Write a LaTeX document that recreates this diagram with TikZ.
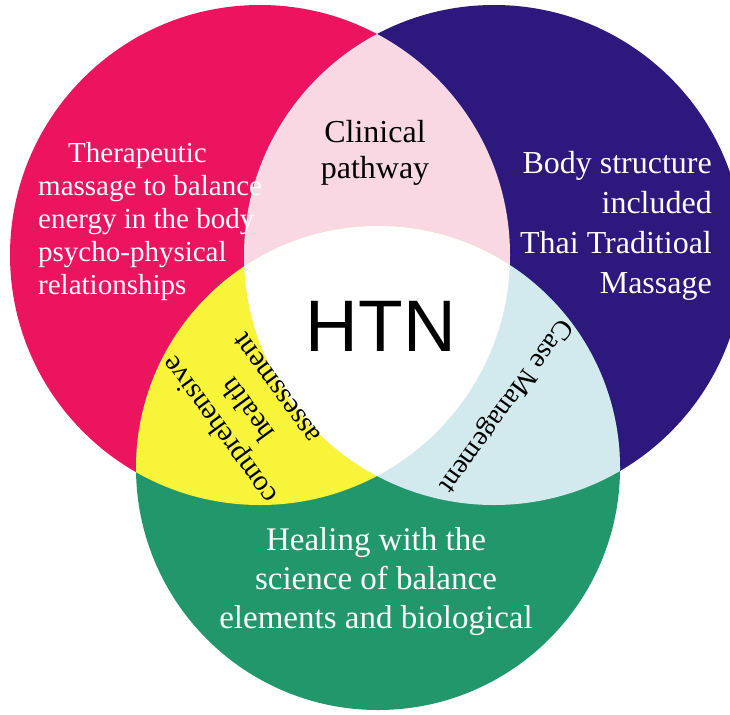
\documentclass[tikz,border=0pt]{standalone}
\usepackage{fontspec}
\setmainfont{Liberation Serif}
\newfontfamily\htnfont{Liberation Sans}
\usepackage{tikz}
\definecolor{petalpink}{HTML}{EC145F}
\definecolor{petalpurple}{HTML}{2D187E}
\definecolor{petalgreen}{HTML}{23976C}
\definecolor{petalyellow}{HTML}{F8F43A}
\definecolor{softpink}{HTML}{F9D8E3}
\definecolor{softblue}{HTML}{D2E9EE}
\tikzset{
    petal text/.style={inner sep=0pt, text=white},
    overlap text/.style={inner sep=0pt, text=black}}

\begin{document}
\begin{tikzpicture}[x=1pt, y=-1pt]

        \useasboundingbox (0,0) rectangle (730,714);

        \coordinate (P) at (260,255);
        \coordinate (Q) at (494,255);
        \coordinate (G) at (378,468);

        \fill[petalpink] (P) circle[radius=250pt];
        \fill[petalpurple] (Q) circle[radius=250pt];
        \fill[petalgreen] (G) circle[radius=242pt];

        \begin{scope}
            \clip (P) circle[radius=250pt];
            \fill[softpink] (Q) circle[radius=250pt];
            \fill[petalyellow] (G) circle[radius=242pt];
        \end{scope}
        \begin{scope}
            \clip (Q) circle[radius=250pt];
            \fill[softblue] (G) circle[radius=242pt];
            \clip (P) circle[radius=250pt];
            \fill[white] (G) circle[radius=242pt];
        \end{scope}

        \node[petal text, align=left, anchor=west, font=\fontsize{29}{33}\selectfont] (T) at (38,222)
            {\hspace*{30pt}Therapeutic\\massage to balance\\energy in the body\\psycho-physical\\relationships};
        \node[petal text, align=right, anchor=east, font=\fontsize{32}{40}\selectfont] (B) at (712,226)
            {Body structure\\included\\Thai Traditioal\\Massage};
        \node[petal text, align=center, font=\fontsize{33}{39}\selectfont] (H) at (376,582)
            {Healing with the\\science of balance\\elements and biological};
        \node[overlap text, align=center, font=\fontsize{32}{36}\selectfont] (C) at (375,153)
            {Clinical\\pathway};
        \node[overlap text, align=center, rotate=126, font=\fontsize{29}{35}\selectfont] (A) at (247,410)
            {comprehensive\\health\\assessment};
        \node[overlap text, rotate=-126, font=\fontsize{28}{34}\selectfont] (M) at (505,405)
            {Case Management};
        \node[overlap text, font=\htnfont\fontsize{73}{78}\selectfont] (N) at (381,326) {HTN};

\end{tikzpicture}
\end{document}
